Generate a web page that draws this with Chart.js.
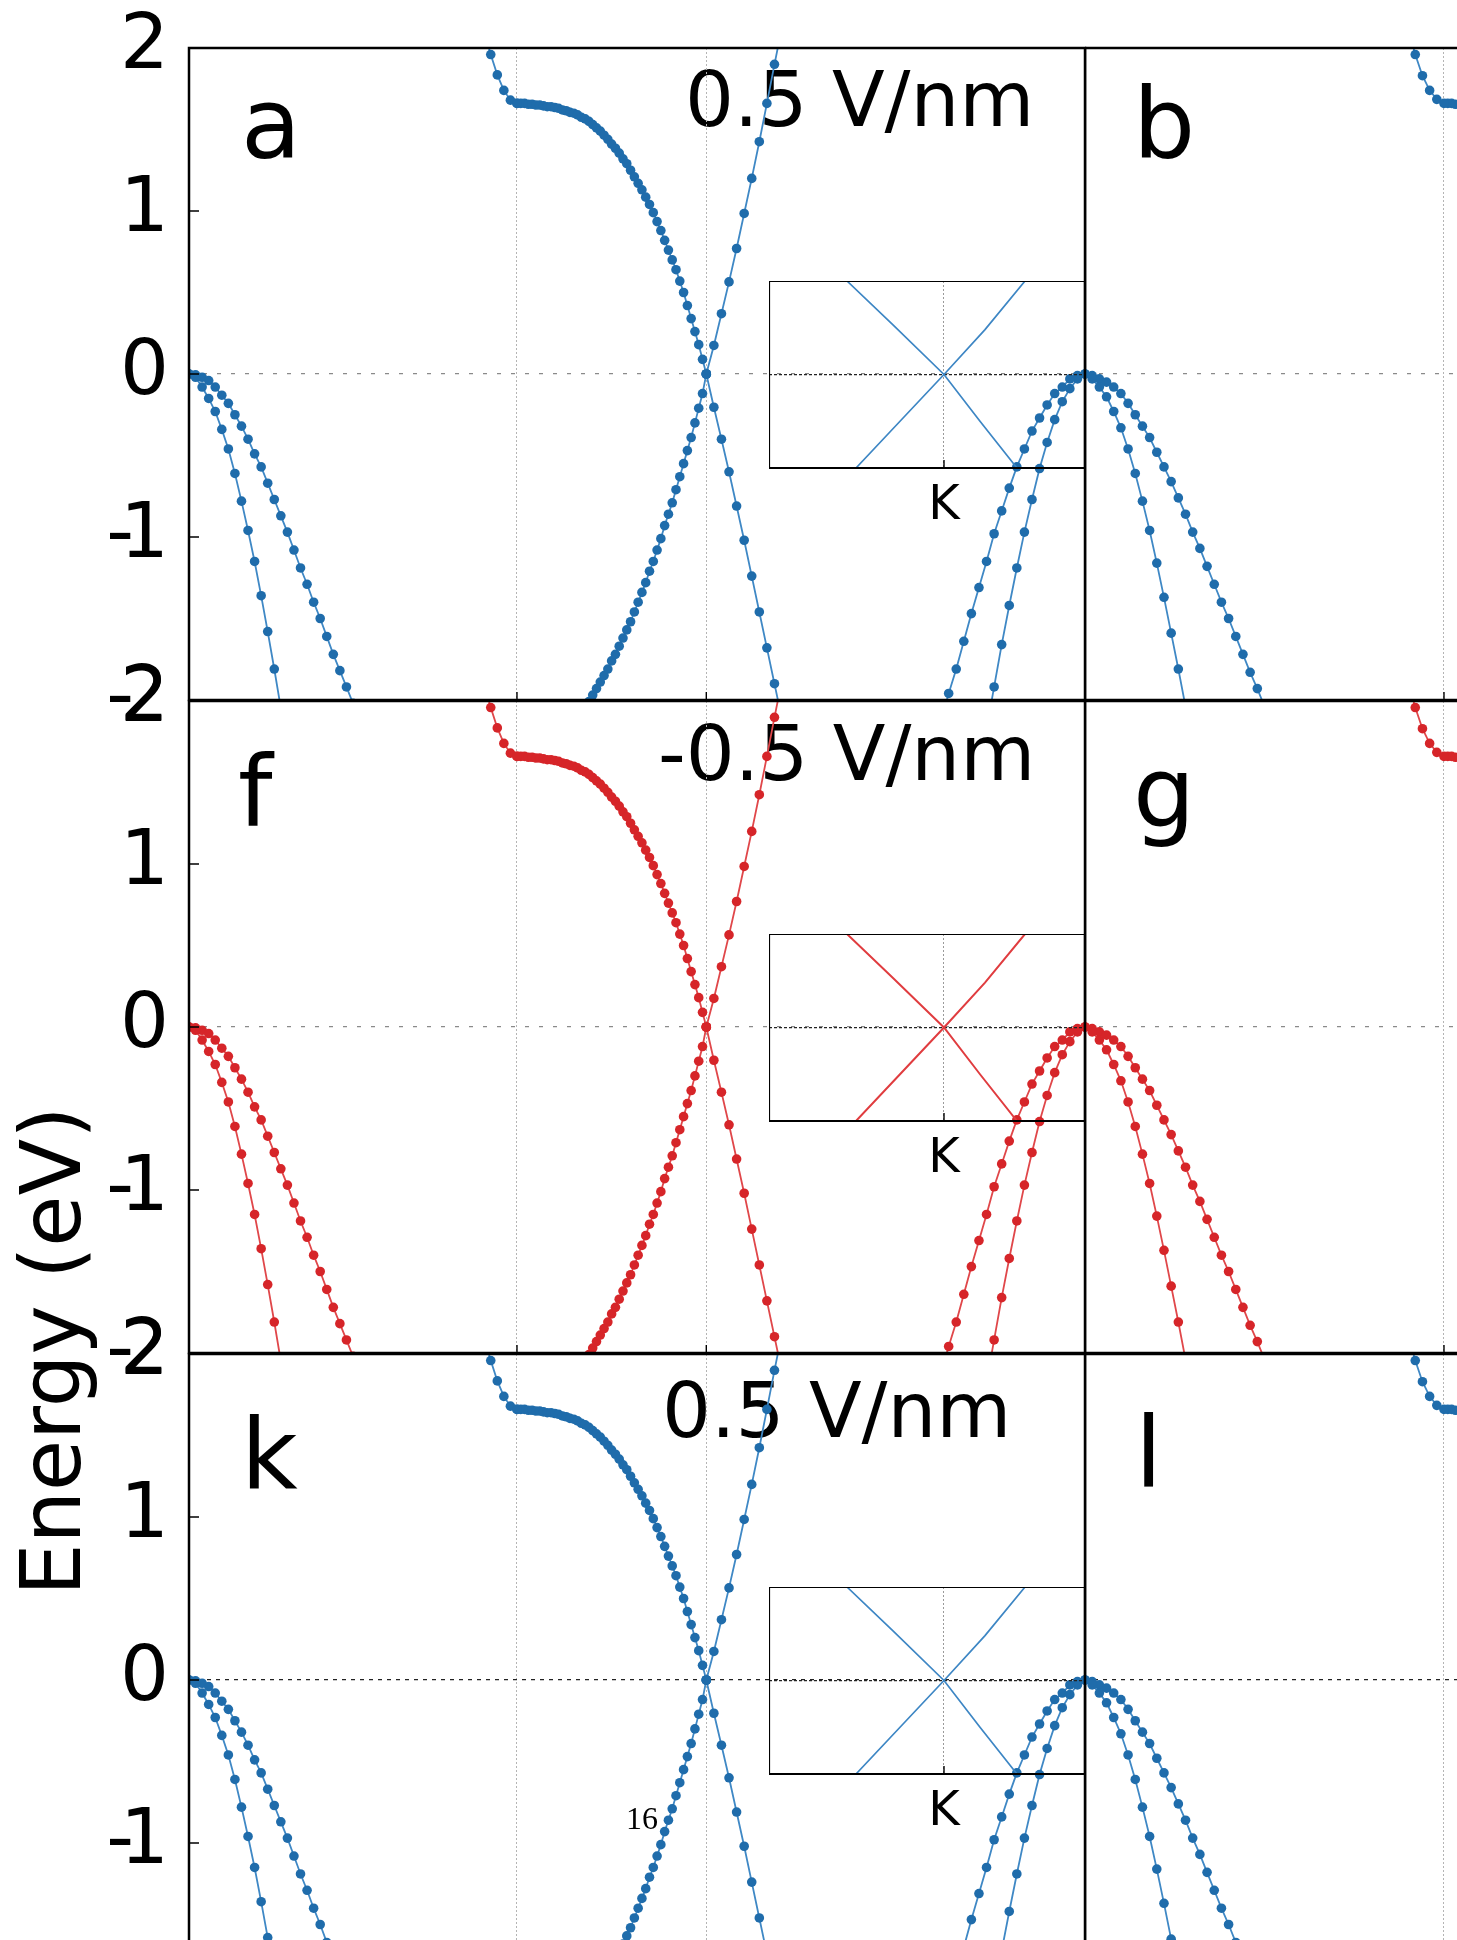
<!DOCTYPE html>
<html>
<head>
<meta charset="utf-8">
<title>Band structure</title>
<script src="https://cdn.jsdelivr.net/npm/chart.js@4.4.1/dist/chart.umd.min.js"></script>
<style>
  html, body { margin: 0; padding: 0; background: #fff; }
  body { position: relative; width: 1457px; height: 1940px; overflow: hidden; }
  canvas { position: absolute; z-index: 1; }
  .txt { position: absolute; z-index: 0; white-space: nowrap; color: #000; }
</style>
</head>
<body>
<script>
// k-path: Γ-M, M-K, K-Γ (left panels), 50 steps per segment
const segLen = [0.5774, 0.3333, 0.6667];
const rightSegLen = [0.632, 0.3333];
const nSteps = 50;

const energyTicks = [2, 1, 0, -1, -2];
const energyLabels = ['2', '1', '0', '-1', '-2'];
const fieldLabels = ['0.5 V/nm', '-0.5 V/nm', '0.5 V/nm'];
const panelLetters = [['a', 'b'], ['f', 'g'], ['k', 'l']];
const insetLabel = 'K';

// Γ-M segment
const gmVal1 = [0, -0.02, -0.08, -0.15, -0.23, -0.34, -0.46, -0.61, -0.78, -0.96, -1.15, -1.36, -1.58, -1.81, -2.05];
const gmVal2 = [0, -0.005, -0.02, -0.04, -0.08, -0.13, -0.18, -0.25, -0.32, -0.40, -0.49, -0.57, -0.67, -0.77, -0.87,
                -0.97, -1.08, -1.19, -1.29, -1.40, -1.50, -1.61, -1.72, -1.82, -1.92, -2.02];
const gmCond = [2.10, 1.96, 1.835, 1.74, 1.68, 1.66];           // from step 45

// M-K segment
const mkCond = [1.66, 1.66, 1.66, 1.655, 1.655, 1.65, 1.65, 1.645, 1.64, 1.64, 1.635, 1.63, 1.62, 1.615, 1.605,
                1.60, 1.59, 1.575, 1.565, 1.55, 1.53, 1.51, 1.49, 1.465, 1.44, 1.41, 1.385, 1.355, 1.32, 1.29,
                1.25, 1.21, 1.17, 1.13, 1.085, 1.04, 0.99, 0.935, 0.88, 0.82, 0.76, 0.70, 0.64, 0.57, 0.50,
                0.42, 0.34, 0.26, 0.18, 0.09, 0];
const mkVal = [-2.05, -2.01, -1.97, -1.93, -1.89, -1.85, -1.81, -1.76, -1.72, -1.67, -1.62, -1.57, -1.52, -1.46,
               -1.40, -1.34, -1.28, -1.21, -1.15, -1.08, -1.01, -0.93, -0.86, -0.79, -0.71, -0.63, -0.55, -0.47,
               -0.39, -0.30, -0.21, -0.12, 0];                   // from step 18

// K-Γ segment
const kgCond = [0, 0.175, 0.37, 0.565, 0.77, 0.985, 1.20, 1.425, 1.66, 1.90, 2.13];
const kgVal = [0, -0.204, -0.40, -0.60, -0.81, -1.02, -1.24, -1.46, -1.68, -1.90, -2.12];
const kgValA = [-2.12, -1.96, -1.81, -1.64, -1.47, -1.31, -1.15, -0.98, -0.84, -0.70, -0.57, -0.46, -0.35, -0.27,
                -0.19, -0.12, -0.08, -0.03, -0.01, 0];           // from step 31
const kgValB = [-2.18, -1.92, -1.66, -1.42, -1.19, -0.97, -0.77, -0.58, -0.42, -0.28, -0.17, -0.09, -0.03, 0]; // from 37

// right panels
const rtVal1 = [0, -0.03, -0.08, -0.14, -0.23, -0.33, -0.46, -0.61, -0.78, -0.96, -1.16, -1.37, -1.59, -1.81, -2.04];
const rtVal2 = [0, -0.01, -0.03, -0.05, -0.08, -0.12, -0.18, -0.25, -0.32, -0.39, -0.48, -0.57, -0.66, -0.76, -0.86,
                -0.97, -1.07, -1.18, -1.29, -1.40, -1.50, -1.61, -1.72, -1.83, -1.93, -2.04];
const rtCond = [2.12, 1.96, 1.83, 1.74, 1.685, 1.66];           // from step 45
const rtCond2 = [1.66, 1.66, 1.655, 1.655];                      // next segment, from step 1

// inset (zoom around K)
const insetAx = [-0.97, -0.51, 0, 0.36, 0.73];
const insetAy = [1, 0.53, 0, -0.5, -1];
const insetBx = [-0.88, -0.44, 0, 0.41, 0.81];
const insetBy = [-1, -0.5, 0, 0.48, 1];

// ---- layout ----
const rowTops = [48, 701, 1354];
const rowH = 652;
const pad = 45;
const pxPerK = 896 / (segLen[0] + segLen[1] + segLen[2]);
const dotColors = ['#1f6cab', '#d62529', '#1f6cab'];
const lineColors = ['#3f88c5', '#e0474a', '#3f88c5'];
const zeroColors = ['#8a8a8a', '#8a8a8a', '#222'];
const zeroDash = [[4, 10], [4, 10], [4, 5]];
const tickSqueeze = 14;   // the minus sign sits tight against the digit

function segStart(lens, s) { let x = 0; for (let i = 0; i < s; i++) x += lens[i]; return x; }
function bandPoints(lens, s, start, vals) {
  const x0 = segStart(lens, s), dx = lens[s] / nSteps;
  return vals.map((e, i) => ({ x: x0 + (start + i) * dx, y: e }));
}
function bandSet(points, r) {
  return { data: points, showLine: true, borderColor: lineColors[r], borderWidth: 1.8,
           pointRadius: 4.8, pointHoverRadius: 4.8, pointBackgroundColor: dotColors[r],
           pointBorderWidth: 0, clip: 0 };
}

function addCanvas(left, top, w, h) {
  const c = document.createElement('canvas');
  c.width = w; c.height = h;
  c.style.left = left + 'px'; c.style.top = top + 'px';
  c.style.width = w + 'px'; c.style.height = h + 'px';
  document.body.appendChild(c);
  return c.getContext('2d');
}
function addText(txt, x, base, size, fam, asc, z) {
  const d = document.createElement('div');
  d.className = 'txt';
  d.textContent = txt;
  d.style.left = x + 'px';
  d.style.top = (base - asc * size) + 'px';
  d.style.font = size + 'px/1 "' + fam + '"';
  if (z) d.style.zIndex = z;
  document.body.appendChild(d);
  return d;
}

// no automatic label padding: the plot box must sit exactly where it is put
function fixX(h) { return s => { s.height = h; s.paddingLeft = 0; s.paddingRight = 0; }; }
function fixY(w) { return s => { s.width = w; s.paddingTop = 0; s.paddingBottom = 0; }; }

// frame + inward tick marks
function frame(sides, lw, xTicks, yTicks) {
  return {
    id: 'frame',
    afterDraw(chart) {
      const { ctx, chartArea: a } = chart;
      ctx.save();
      ctx.setLineDash([]);
      ctx.strokeStyle = '#000';
      ctx.lineWidth = 1.4;
      ctx.beginPath();
      (yTicks || []).forEach(v => {
        const y = chart.scales.y.getPixelForValue(v);
        ctx.moveTo(a.left, y); ctx.lineTo(a.left + 10, y);
      });
      (xTicks || []).forEach(v => {
        const x = chart.scales.x.getPixelForValue(v);
        ctx.moveTo(x, a.bottom); ctx.lineTo(x, a.bottom - 8);
      });
      ctx.stroke();
      ctx.lineWidth = lw;
      ctx.lineCap = 'square';
      ctx.beginPath();
      if (sides.includes('t')) { ctx.moveTo(a.left, a.top); ctx.lineTo(a.right, a.top); }
      if (sides.includes('b')) { ctx.moveTo(a.left, a.bottom); ctx.lineTo(a.right, a.bottom); }
      if (sides.includes('l')) { ctx.moveTo(a.left, a.top); ctx.lineTo(a.left, a.bottom); }
      if (sides.includes('r')) { ctx.moveTo(a.right, a.top); ctx.lineTo(a.right, a.bottom); }
      ctx.stroke();
      ctx.restore();
    }
  };
}
const tightTicks = {
  id: 'tightTicks',
  beforeDraw(chart) { if ('letterSpacing' in chart.ctx) chart.ctx.letterSpacing = -tickSqueeze + 'px'; },
  afterDraw(chart) { if ('letterSpacing' in chart.ctx) chart.ctx.letterSpacing = '0px'; }
};
const hasSpacing = 'letterSpacing' in CanvasRenderingContext2D.prototype;

const kM = segLen[0], kK = segLen[0] + segLen[1], kEnd = kK + segLen[2];
const rightMax = (1457 - 1085) / pxPerK;

const baseOpts = { responsive: false, animation: false, devicePixelRatio: 1, events: [],
                   plugins: { legend: { display: false }, tooltip: { enabled: false } } };

rowTops.forEach((top, r) => {
  const leftBands = [
    bandPoints(segLen, 0, 0, gmVal1), bandPoints(segLen, 0, 0, gmVal2), bandPoints(segLen, 0, 45, gmCond),
    bandPoints(segLen, 1, 0, mkCond), bandPoints(segLen, 1, 18, mkVal),
    bandPoints(segLen, 2, 0, kgCond), bandPoints(segLen, 2, 0, kgVal),
    bandPoints(segLen, 2, 31, kgValA), bandPoints(segLen, 2, 37, kgValB)
  ];
  const zeroGrid = {
    color: c => (c.tick && c.tick.value === 0) ? zeroColors[r] : 'rgba(0,0,0,0)',
    lineWidth: 1.3, drawTicks: false
  };
  new Chart(addCanvas(0, top - pad, 1090, rowH + 2 * pad), {
    type: 'scatter',
    data: { datasets: leftBands.map(p => bandSet(p, r)) },
    options: Object.assign({}, baseOpts, {
      layout: { padding: { top: pad, bottom: pad, left: 0, right: 5 }, autoPadding: false },
      scales: {
        x: { type: 'linear', min: 0, max: kEnd,
             afterFit: fixX(0),
             afterBuildTicks: s => { s.ticks = [kM, kK].map(v => ({ value: v })); },
             ticks: { display: false },
             grid: { color: '#b4b4b4', lineWidth: 1, drawTicks: false },
             border: { display: false, dash: [2, 2] } },
        y: { type: 'linear', min: -2, max: 2,
             afterFit: fixY(189),
             afterBuildTicks: s => { s.ticks = energyTicks.map(v => ({ value: v })); },
             ticks: { callback: (v, i) => energyLabels[i], color: '#000',
                      padding: 20 + (hasSpacing ? tickSqueeze : 0),
                      font: { family: 'DejaVu Sans', size: 77 } },
             grid: zeroGrid,
             border: { display: false, dash: zeroDash[r] } }
      }
    }),
    plugins: [tightTicks, frame('tblr', 2.5, [kM, kK], energyTicks)]
  });

  const rightBands = [
    bandPoints(rightSegLen, 0, 0, rtVal1), bandPoints(rightSegLen, 0, 0, rtVal2),
    bandPoints(rightSegLen, 0, 45, rtCond), bandPoints(rightSegLen, 1, 1, rtCond2)
  ];
  new Chart(addCanvas(1085, top - pad, 1457 - 1085, rowH + 2 * pad), {
    type: 'scatter',
    data: { datasets: rightBands.map(p => bandSet(p, r)) },
    options: Object.assign({}, baseOpts, {
      layout: { padding: { top: pad, bottom: pad, left: 0, right: 0 }, autoPadding: false },
      scales: {
        x: { type: 'linear', min: 0, max: rightMax,
             afterFit: fixX(0),
             afterBuildTicks: s => { s.ticks = [rightSegLen[0]].map(v => ({ value: v })); },
             ticks: { display: false },
             grid: { color: '#b4b4b4', lineWidth: 1, drawTicks: false },
             border: { display: false, dash: [2, 2] } },
        y: { type: 'linear', min: -2, max: 2,
             afterFit: fixY(0),
             afterBuildTicks: s => { s.ticks = energyTicks.map(v => ({ value: v })); },
             ticks: { display: false },
             grid: zeroGrid,
             border: { display: false, dash: zeroDash[r] } }
      }
    }),
    plugins: [frame('tbl', 2.5, [rightSegLen[0]], [])]
  });

  // inset around K
  const zeroY = top + rowH / 2;
  const insetH = 187, labelH = 60;
  new Chart(addCanvas(769, zeroY - insetH / 2, 316, insetH + labelH), {
    type: 'scatter',
    data: { datasets: [
      { data: insetAx.map((x, i) => ({ x: x, y: insetAy[i] })) },
      { data: insetBx.map((x, i) => ({ x: x, y: insetBy[i] })) }
    ].map(d => Object.assign(d, { showLine: true, borderColor: r === 1 ? '#e03c3f' : '#3d86c4',
                                  borderWidth: r === 1 ? 2 : 1.7, pointRadius: 0, clip: 0 })) },
    options: Object.assign({}, baseOpts, {
      layout: { padding: 0, autoPadding: false },
      scales: {
        x: { type: 'linear', min: -1.75, max: 1.41,
             afterFit: fixX(labelH),
             afterBuildTicks: s => { s.ticks = [{ value: 0 }]; },
             ticks: { callback: () => insetLabel, color: '#000', padding: 10,
                      font: { family: 'DejaVu Sans', size: 48 } },
             grid: { color: '#9a9a9a', lineWidth: 1, drawTicks: false },
             border: { display: false, dash: [2, 2] } },
        y: { type: 'linear', min: -1, max: 1,
             afterFit: fixY(0),
             afterBuildTicks: s => { s.ticks = [{ value: 0 }]; },
             ticks: { display: false },
             grid: { color: '#222', lineWidth: 1.2, drawTicks: false },
             border: { display: false, dash: [3, 2] } }
      }
    }),
    plugins: [frame('tblr', 2.2, [0], [])]
  });
});

// annotations (below the data canvases)
const DJ = 'DejaVu Sans', DJA = 0.846;
addText(panelLetters[0][0], 241, 158, 98, DJ, DJA);
addText(panelLetters[0][1], 1133, 158, 98, DJ, DJA);
addText(fieldLabels[0], 685, 126, 77, DJ, DJA);
addText(panelLetters[1][0], 238, 826, 98, DJ, DJA);
addText(panelLetters[1][1], 1133, 827, 98, DJ, DJA);
addText(fieldLabels[1], 658, 780, 77, DJ, DJA);
addText(panelLetters[2][0], 241, 1489, 98, DJ, DJA);
addText(panelLetters[2][1], 1135, 1487, 98, DJ, DJA);
addText(fieldLabels[2], 662, 1437, 77, DJ, DJA);

// y axis title, rotated
const yt = addText('Energy (eV)', 80 - DJA * 83, 0, 83, DJ, 0);
yt.style.top = '1596px';
yt.style.transformOrigin = '0 0';
yt.style.transform = 'rotate(-90deg)';

// page number
addText('16', 626, 1829, 32, 'Liberation Serif', 0.8375, 3);
</script>
</body>
</html>
